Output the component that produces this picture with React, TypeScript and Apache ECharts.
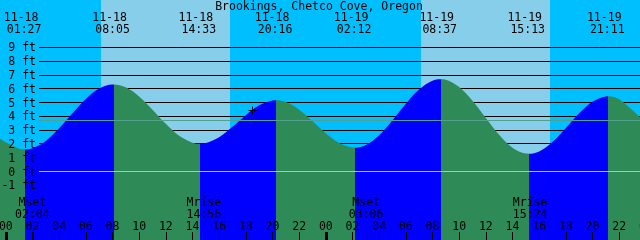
import React, { useEffect, useRef } from 'react';
import * as echarts from 'echarts';

const TITLE = 'Brookings, Chetco Cove, Oregon';

// Tide extremes (day index 0 = 11-18)
const tideDates = ['11-18', '11-18', '11-18', '11-18', '11-19', '11-19', '11-19', '11-19'];
const tideDayIndex = [0, 0, 0, 0, 1, 1, 1, 1];
const tideTimes = ['01:27', '08:05', '14:33', '20:16', '02:12', '08:37', '15:13', '21:11'];
const tideKinds = ['low', 'high', 'low', 'high', 'low', 'high', 'low', 'high'];
const tideHeights = [1.61, 6.32, 2.01, 5.17, 1.73, 6.69, 1.29, 5.46];

// Tide heights (ft), hours from 11-18 00:00
const curveHours = [
  -0.5, 0, 1, 2, 3, 4, 5, 6, 7, 8, 9, 10, 11, 12, 13, 14, 15, 16, 17, 18, 19, 20, 21, 22, 23,
  24, 25, 26, 27, 28, 29, 30, 31, 32, 33, 34, 35, 36, 37, 38, 39, 40, 41, 42, 43, 44, 45, 46, 47, 47.6,
];
const curveHeights = [
  2.42, 2.12, 1.66, 1.69, 2.22, 3.13, 4.22, 5.27, 6.02, 6.32, 6.11, 5.45, 4.49, 3.46, 2.59, 2.09, 2.06,
  2.49, 3.24, 4.09, 4.8, 5.15, 5.04, 4.49, 3.66, 2.77, 2.07, 1.74, 1.92, 2.63, 3.72, 4.92, 5.95, 6.58,
  6.65, 6.13, 5.13, 3.88, 2.66, 1.73, 1.3, 1.46, 2.14, 3.16, 4.23, 5.07, 5.45, 5.25, 4.45, 3.92,
];

// Sun
const sunDayIndex = [0, 1];
const sunriseTimes = ['07:08', '07:08'];
const sunsetTimes = ['16:49', '16:49'];

// Moon
const moonEvents = ['Mset', 'Mrise', 'Mset', 'Mrise'];
const moonDayIndex = [0, 0, 1, 1];
const moonTimes = ['02:04', '14:56', '03:06', '15:24'];

// Current time marker
const nowHour = 18.5;
const nowHeight = 4.48;

// Levels and tick labels
const footLevels = [-1, 0, 1, 2, 3, 4, 5, 6, 7, 8, 9];
const meanLevel = 3.7;
const hourLabelValues = [0, 2, 4, 6, 8, 10, 12, 14, 16, 18, 20, 22, 24, 26, 28, 30, 32, 34, 36, 38, 40, 42, 44, 46];
const edgeHourLabelValues = [48];
const midnightValues = [0, 24];

// ---- layout ----
const X_MIN = -0.435;
const X_MAX = X_MIN + 48;
const Y_MIN = -4.971;
const Y_MAX = 12.446;
const LINE_START_X = 39;
const FONT_FAMILY = '"DejaVu Sans Mono", monospace';
const FS = 11.5;
const FONT = `${FS}px ${FONT_FAMILY}`;

const NIGHT = '#00BFFF';
const DAY = '#87CEEB';
const FLOOD = '#0000FF';
const EBB = '#2E8B57';

const toHours = (day: number, hm: string) => day * 24 + Number(hm.slice(0, 2)) + Number(hm.slice(3, 5)) / 60;
const hourLabel = (v: number) => String(((v % 24) + 24) % 24).padStart(2, '0');

const tideHours = tideTimes.map((t, i) => toHours(tideDayIndex[i], t));
const moonHours = moonTimes.map((t, i) => toHours(moonDayIndex[i], t));
const dayBands = sunDayIndex.map((d, i) => [toHours(d, sunriseTimes[i]), toHours(d, sunsetTimes[i])]);

const curvePoints: number[][] = curveHours
  .map((h, i) => [h, curveHeights[i]])
  .concat(tideHours.map((h, i) => [h, tideHeights[i]]))
  .sort((a, b) => a[0] - b[0]);

const pieces: any[] = [];
tideHours.forEach((h, i) => {
  const color = tideKinds[i] === 'high' ? FLOOD : EBB;
  if (i === 0) pieces.push({ lt: h, color });
  else pieces.push({ gte: tideHours[i - 1], lt: h, color });
});
pieces.push({ gte: tideHours[tideHours.length - 1], color: tideKinds[tideKinds.length - 1] === 'high' ? EBB : FLOOD });

const txt = (text: string, x: number, y: number) => ({
  type: 'text',
  x,
  y,
  style: {
    text,
    font: FONT,
    fill: '#000',
    align: 'center',
    verticalAlign: 'middle',
    textAlign: 'center',
    textVerticalAlign: 'middle',
  },
});

const refColors = ['#8ccfe6', '#52a08e'];

const option: any = {
  animation: false,
  grid: {
    left: 0,
    right: 0,
    top: 0,
    bottom: 0,
    containLabel: false,
    outerBoundsMode: 'none',
    show: true,
    backgroundColor: NIGHT,
    borderWidth: 0,
  },
  graphic: [{ ...txt(TITLE, 319, 6), z: 10 }],
  xAxis: [
    {
      type: 'value',
      min: X_MIN,
      max: X_MAX,
      position: 'bottom',
      z: 6,
      axisLine: { show: false, onZero: false },
      splitLine: { show: false },
      axisTick: {
        show: true,
        inside: true,
        length: 8,
        lineStyle: { color: '#000', width: 1 },
        customValues: hourLabelValues.concat(moonHours),
      },
      axisLabel: {
        show: true,
        inside: true,
        margin: 14.5,
        verticalAlign: 'middle',
        customValues: hourLabelValues,
        formatter: (v: number) => hourLabel(v),
        fontFamily: FONT_FAMILY,
        fontSize: FS,
        color: '#000',
        hideOverlap: false,
      },
    },
    {
      type: 'value',
      min: X_MIN,
      max: X_MAX,
      position: 'bottom',
      z: 6,
      axisLine: { show: false, onZero: false },
      splitLine: { show: false },
      axisLabel: { show: false },
      axisTick: {
        show: true,
        inside: true,
        length: 8,
        lineStyle: { color: '#000', width: 3 },
        customValues: midnightValues,
      },
    },
  ],
  yAxis: {
    type: 'value',
    min: Y_MIN,
    max: Y_MAX,
    z: 6,
    axisLine: { show: false, onZero: false },
    axisTick: { show: false },
    splitLine: { show: false },
    axisLabel: {
      inside: true,
      align: 'right',
      margin: 36,
      verticalAlign: 'middle',
      customValues: footLevels,
      formatter: (v: number) => `${v} ft`,
      fontFamily: FONT_FAMILY,
      fontSize: FS,
      color: '#000',
    },
  },
  visualMap: {
    type: 'piecewise',
    show: false,
    dimension: 0,
    seriesIndex: 2,
    pieces,
  },
  series: [
    {
      type: 'custom',
      name: 'daylight',
      z: 1,
      silent: true,
      data: dayBands,
      renderItem: (params: any, api: any) => {
        const a = api.coord([api.value(0), Y_MAX]);
        const b = api.coord([api.value(1), Y_MIN]);
        const x0 = Math.round(a[0]);
        const x1 = Math.round(b[0]);
        return { type: 'rect', shape: { x: x0, y: a[1], width: x1 - x0, height: b[1] - a[1] }, style: { fill: DAY } };
      },
    },
    {
      type: 'custom',
      name: 'foot lines',
      z: 2,
      silent: true,
      data: footLevels.map((v) => [X_MIN, v]),
      renderItem: (params: any, api: any) => {
        const y = Math.round(api.coord([X_MIN, api.value(1)])[1] - 0.5) + 0.5;
        const cs = params.coordSys;
        return {
          type: 'line',
          shape: { x1: LINE_START_X, y1: y, x2: cs.x + cs.width, y2: y },
          style: { stroke: '#000', lineWidth: 1 },
        };
      },
    },
    {
      type: 'line',
      name: 'tide',
      z: 3,
      silent: true,
      data: curvePoints,
      showSymbol: false,
      symbol: 'none',
      smooth: 0.35,
      lineStyle: { width: 0 },
      areaStyle: { opacity: 1, origin: 'start' },
    },
    {
      type: 'custom',
      name: 'reference lines',
      z: 4,
      silent: true,
      data: [[X_MIN, 0], [X_MIN, meanLevel]],
      renderItem: (params: any, api: any) => {
        const y = Math.round(api.coord([X_MIN, api.value(1)])[1] - 0.5) + 0.5;
        const cs = params.coordSys;
        return {
          type: 'line',
          shape: { x1: LINE_START_X, y1: y, x2: cs.x + cs.width, y2: y },
          style: { stroke: refColors[params.dataIndex], lineWidth: 1 },
        };
      },
    },
    {
      type: 'custom',
      name: 'now',
      z: 5,
      silent: true,
      data: [[nowHour, nowHeight]],
      renderItem: (params: any, api: any) => {
        const p = api.coord([api.value(0), api.value(1)]);
        const cx = Math.round(p[0]) + 0.5;
        const cy = Math.round(p[1]) + 0.5;
        return {
          type: 'group',
          children: [
            { type: 'line', shape: { x1: cx - 4, y1: cy, x2: cx + 4, y2: cy }, style: { stroke: '#000', lineWidth: 1 } },
            { type: 'line', shape: { x1: cx, y1: cy - 4, x2: cx, y2: cy + 4 }, style: { stroke: '#000', lineWidth: 1 } },
          ],
        };
      },
    },
    {
      type: 'custom',
      name: 'tide labels',
      z: 5,
      silent: true,
      data: tideHours.map((h, i) => [h, tideHeights[i]]),
      renderItem: (params: any, api: any) => {
        const x = api.coord([api.value(0), 0])[0];
        const i = params.dataIndex;
        return {
          type: 'group',
          children: [txt(tideDates[i], x - 4, 17), txt(tideTimes[i], x - 1, 29)],
        };
      },
    },
    {
      type: 'custom',
      name: 'moon labels',
      z: 5,
      silent: true,
      data: moonHours.map((h) => [h, 0]),
      renderItem: (params: any, api: any) => {
        const x = api.coord([api.value(0), 0])[0];
        const i = params.dataIndex;
        return {
          type: 'group',
          children: [txt(moonEvents[i], x - 1, 202), txt(moonTimes[i], x - 1, 213.5)],
        };
      },
    },
    {
      type: 'custom',
      name: 'edge hour labels',
      z: 5,
      silent: true,
      data: edgeHourLabelValues.map((h) => [h, 0]),
      renderItem: (params: any, api: any) => {
        const x = api.coord([api.value(0), 0])[0];
        return txt(hourLabel(api.value(0)), x, 225.5);
      },
    },
  ],
};

export default function App() {
  const ref = useRef<HTMLDivElement>(null);
  useEffect(() => {
    const chart = echarts.init(ref.current as HTMLDivElement, null, { renderer: 'svg' });
    chart.setOption(option);
    return () => chart.dispose();
  }, []);
  return <div ref={ref} style={{ position: 'fixed', left: 0, top: 0, width: 640, height: 240 }} />;
}
